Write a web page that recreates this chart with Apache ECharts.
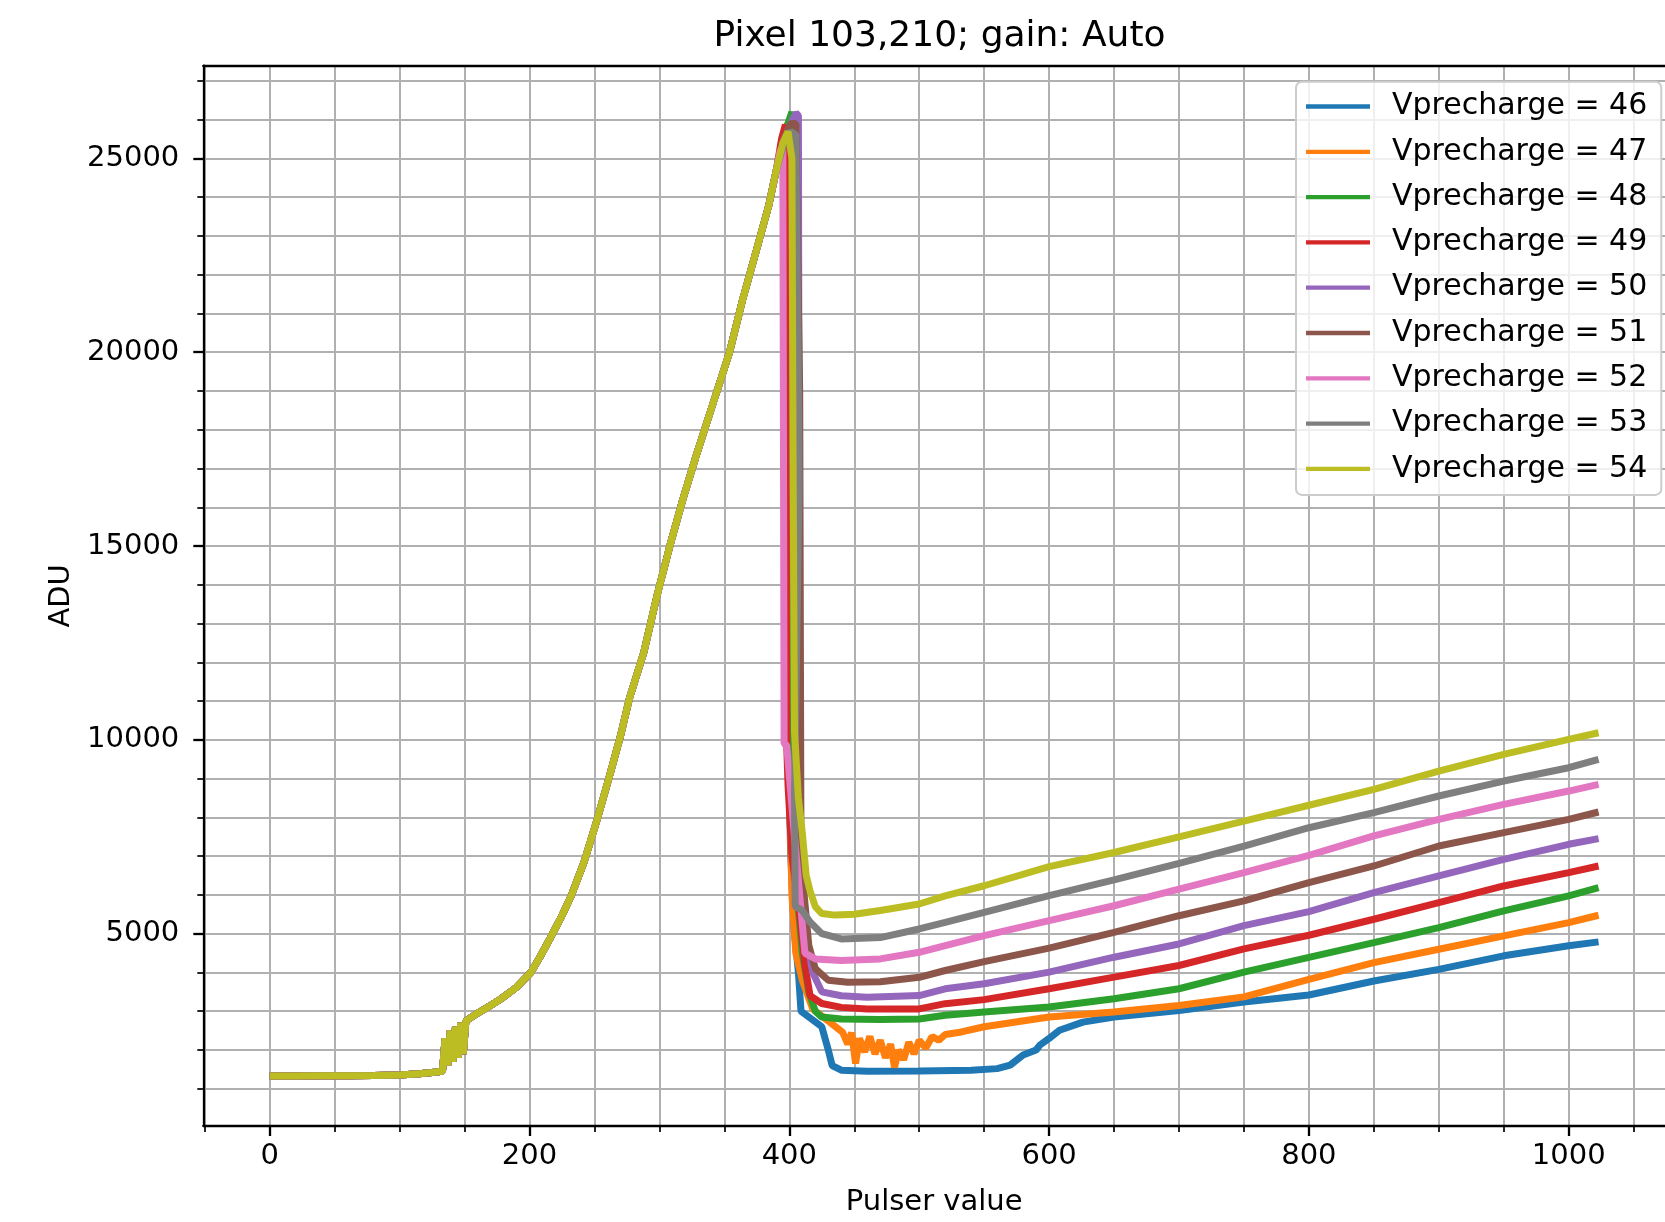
<!DOCTYPE html>
<html>
<head>
<meta charset="utf-8">
<script src="https://cdn.jsdelivr.net/npm/echarts@6/dist/echarts.min.js"></script>
<style>
html,body{margin:0;padding:0;background:#ffffff;}
#c{width:1665px;height:1222px;}
</style>
</head>
<body>
<div id="c"></div>
<script>
// ---------- chart text ----------
const chartTitle = 'Pixel 103,210; gain: Auto';
const xAxisTitle = 'Pulser value';
const yAxisTitle = 'ADU';
const seriesNames = ['Vprecharge = 46','Vprecharge = 47','Vprecharge = 48','Vprecharge = 49','Vprecharge = 50','Vprecharge = 51','Vprecharge = 52','Vprecharge = 53','Vprecharge = 54'];
const seriesColors = ['#1f77b4','#ff7f0e','#2ca02c','#d62728','#9467bd','#8c564b','#e377c2','#7f7f7f','#bcbd22'];

// ---------- ticks ----------
const xMajorTicks = [0,200,400,600,800,1000];
const xMinorTicks = [-50,0,50,100,150,200,250,300,350,400,450,500,550,600,650,700,750,800,850,900,950,1000,1050];
const yMajorTicks = [5000,10000,15000,20000,25000];
const yMinorTicks = [1000,2000,3000,4000,5000,6000,7000,8000,9000,10000,11000,12000,13000,14000,15000,16000,17000,18000,19000,20000,21000,22000,23000,24000,25000,26000,27000];
const xRange = [-51.15, 1074.15];
const yRange = [40, 27390];

// ---------- common rising part (shared by all settings) ----------
const riseX = [0,20,40,60,80,100,115,125,133,135,137,139,141,143,145,147,149,151,160,170,178,190,201,208,216,224,232,242,252,262,270,277,288,298,308,318,328,341,354,364,374,384,390];
const riseY = [1330,1330,1335,1335,1340,1355,1390,1420,1450,2300,1600,2500,1700,2600,1800,2700,1900,2750,2950,3150,3320,3620,4000,4400,4890,5400,5970,6850,7940,9120,10100,11080,12260,13700,15000,16200,17300,18650,20000,21350,22550,23760,24700];

// ---------- per-setting peak, drop and tail ----------
const tailX46 = [396,399,400,401,404,407,409,415,425,430,433,440,460,500,540,560,570,580,590,593,600,608,626,650,700,750,800,850,900,950,1000,1023];
const tailY46 = [25500,25900,8800,7100,5000,4000,3000,2850,2600,2000,1600,1480,1450,1460,1480,1520,1610,1870,2000,2130,2300,2510,2720,2850,3020,3240,3420,3780,4080,4430,4690,4790];

const tailX47 = [396,399,400,402,405,410,418,428,441,445,448,451,454,458,462,466,470,474,478,481,484,488,492,496,500,505,510,515,520,530,550,600,650,700,750,800,850,900,950,1000,1023];
const tailY47 = [25500,25900,9000,6000,4500,3800,3060,2800,2460,2150,2450,1650,2300,1950,2350,1900,2250,1800,2150,1550,2000,1750,2200,1900,2250,2050,2350,2250,2400,2450,2600,2850,2980,3150,3370,3820,4256,4600,4943,5287,5476];

const tailX48 = [396,400,402,403,406,410,415,420,425,440,470,500,520,550,600,650,700,750,800,850,900,950,1000,1023];
const tailY48 = [25600,26000,26200,10000,6000,4500,3500,3000,2850,2800,2790,2802,2895,2981,3110,3324,3580,4008,4390,4771,5158,5588,5974,6189];

const tailX49 = [394,397,398,399,402,408,412,416,425,440,460,500,520,550,600,650,700,750,800,850,900,950,1000,1023];
const tailY49 = [25500,25870,9860,8830,7000,5500,4200,3400,3200,3100,3060,3060,3195,3300,3580,3880,4180,4608,4960,5373,5802,6232,6576,6747];

const tailX50 = [396,401,405,407,408,410,413,418,425,440,460,500,520,550,600,650,700,750,800,850,900,950,1000,1023];
const tailY50 = [25500,25900,26170,26100,8000,6000,5000,4000,3500,3400,3361,3404,3580,3709,4008,4394,4736,5207,5570,6060,6490,6919,7306,7452];

const tailX51 = [396,401,405,407,408,409,411,415,420,430,445,470,500,520,550,600,650,700,750,800,850,900,950,1000,1023];
const tailY51 = [25500,25900,25900,21200,18950,6700,6160,4700,4100,3800,3747,3760,3876,4051,4280,4630,5036,5464,5849,6318,6747,7263,7607,7950,8139];

const tailX52 = [393,395,396,398,404,408,412,420,440,470,500,520,550,600,650,700,750,800,850,900,950,1000,1023];
const tailY52 = [25200,25300,9900,9860,7500,6000,4500,4350,4306,4350,4521,4693,4950,5336,5721,6149,6577,7020,7521,7950,8337,8680,8852];

const tailX53 = [396,401,405,407,407.5,404,404.5,410,416,425,440,470,500,520,550,600,650,700,750,800,850,900,950,1000,1023];
const tailY53 = [25400,25700,25600,19200,16550,8658,5700,5600,5300,5000,4864,4900,5122,5293,5551,5980,6387,6816,7262,7734,8122,8552,8938,9282,9497];

const tailX54 = [395,399,402,403,404,407,410,413,416,420,425,435,450,470,500,520,550,600,650,700,750,800,850,900,950,1000,1023];
const tailY54 = [25400,25690,25000,16500,10200,8500,7600,6500,6100,5700,5520,5480,5500,5600,5766,5978,6237,6730,7095,7500,7904,8313,8723,9196,9625,10012,10184];

const tailsX = [tailX46,tailX47,tailX48,tailX49,tailX50,tailX51,tailX52,tailX53,tailX54];
const tailsY = [tailY46,tailY47,tailY48,tailY49,tailY50,tailY51,tailY52,tailY53,tailY54];

// ---------- build ----------
const FONT = '"DejaVu Sans", sans-serif';
function pairs(xs, ys){ return xs.map((x,i)=>[x, ys[i]]); }
function seriesData(i){ return pairs(riseX, riseY).concat(pairs(tailsX[i], tailsY[i])); }
function plainNumber(v){ return String(Math.round(v)); }

const chart = echarts.init(document.getElementById('c'), null, {renderer:'canvas', width:1665, height:1222});

const axisLineStyle = {color:'#000000', width:2.3};
const gridLineStyle = {color:'#b0b0b0', width:2};
const LW = 7;

const option = {
  backgroundColor:'#ffffff',
  animation:false,
  textStyle:{fontFamily:FONT},
  title:{
    text:chartTitle, left:934.5, top:14, textAlign:'center',
    textStyle:{fontSize:36, fontWeight:'normal', color:'#000000', fontFamily:FONT}
  },
  legend:{
    orient:'vertical', left:1296, top:81.7,
    padding:[9.8,14,11,10],
    icon:'rect',
    itemWidth:64, itemHeight:4.3, itemGap:15.3,
    backgroundColor:'rgba(255,255,255,0.8)', borderColor:'#cccccc', borderWidth:2, borderRadius:6,
    textStyle:{fontSize:30, color:'#000000', fontFamily:FONT, lineHeight:30, padding:[0,0,0,17]},
    data:seriesNames
  },
  grid:{left:203.3, top:65.7, width:1473, height:1062.6, containLabel:false},
  xAxis:[
    {
      type:'value', min:xRange[0], max:xRange[1], position:'bottom',
      axisLine:{show:true, onZero:false, lineStyle:axisLineStyle},
      axisTick:{show:true, customValues:xMinorTicks, length:6, lineStyle:{color:'#000000', width:1.7}},
      axisLabel:{show:true, customValues:xMajorTicks, formatter:plainNumber, fontSize:29, color:'#000000', margin:16, fontFamily:FONT},
      splitLine:{show:true, lineStyle:gridLineStyle},
      name:xAxisTitle, nameLocation:'middle', nameGap:62,
      nameTextStyle:{fontSize:29, color:'#000000', fontFamily:FONT}
    },
    {
      type:'value', min:xRange[0], max:xRange[1], position:'bottom',
      axisLine:{show:false, onZero:false},
      axisTick:{show:true, customValues:xMajorTicks, length:10, lineStyle:{color:'#000000', width:2.3}},
      axisLabel:{show:false}, splitLine:{show:false}
    },
    {
      type:'value', min:xRange[0], max:xRange[1], position:'top',
      axisLine:{show:true, onZero:false, lineStyle:axisLineStyle},
      axisTick:{show:false}, axisLabel:{show:false}, splitLine:{show:false}
    }
  ],
  yAxis:[
    {
      type:'value', min:yRange[0], max:yRange[1], position:'left',
      axisLine:{show:true, onZero:false, lineStyle:axisLineStyle},
      axisTick:{show:true, customValues:yMinorTicks, length:6, lineStyle:{color:'#000000', width:1.7}},
      axisLabel:{show:true, customValues:yMajorTicks, formatter:plainNumber, fontSize:29, color:'#000000', margin:24, fontFamily:FONT},
      splitLine:{show:true, lineStyle:gridLineStyle},
      name:yAxisTitle, nameLocation:'middle', nameGap:127, nameRotate:90,
      nameTextStyle:{fontSize:29, color:'#000000', fontFamily:FONT}
    },
    {
      type:'value', min:yRange[0], max:yRange[1], position:'left',
      axisLine:{show:false, onZero:false},
      axisTick:{show:true, customValues:yMajorTicks, length:10, lineStyle:{color:'#000000', width:2.3}},
      axisLabel:{show:false}, splitLine:{show:false}
    }
  ],
  series: seriesNames.map((name,i)=>({
    name:name, type:'line', xAxisIndex:0, yAxisIndex:0,
    data:seriesData(i),
    symbol:'none', showSymbol:false, clip:true,
    color:seriesColors[i],
    lineStyle:{width:LW, color:seriesColors[i]},
    itemStyle:{color:seriesColors[i]},
    emphasis:{disabled:true, lineStyle:{width:LW}}
  }))
};
chart.setOption(option);
</script>
</body>
</html>
